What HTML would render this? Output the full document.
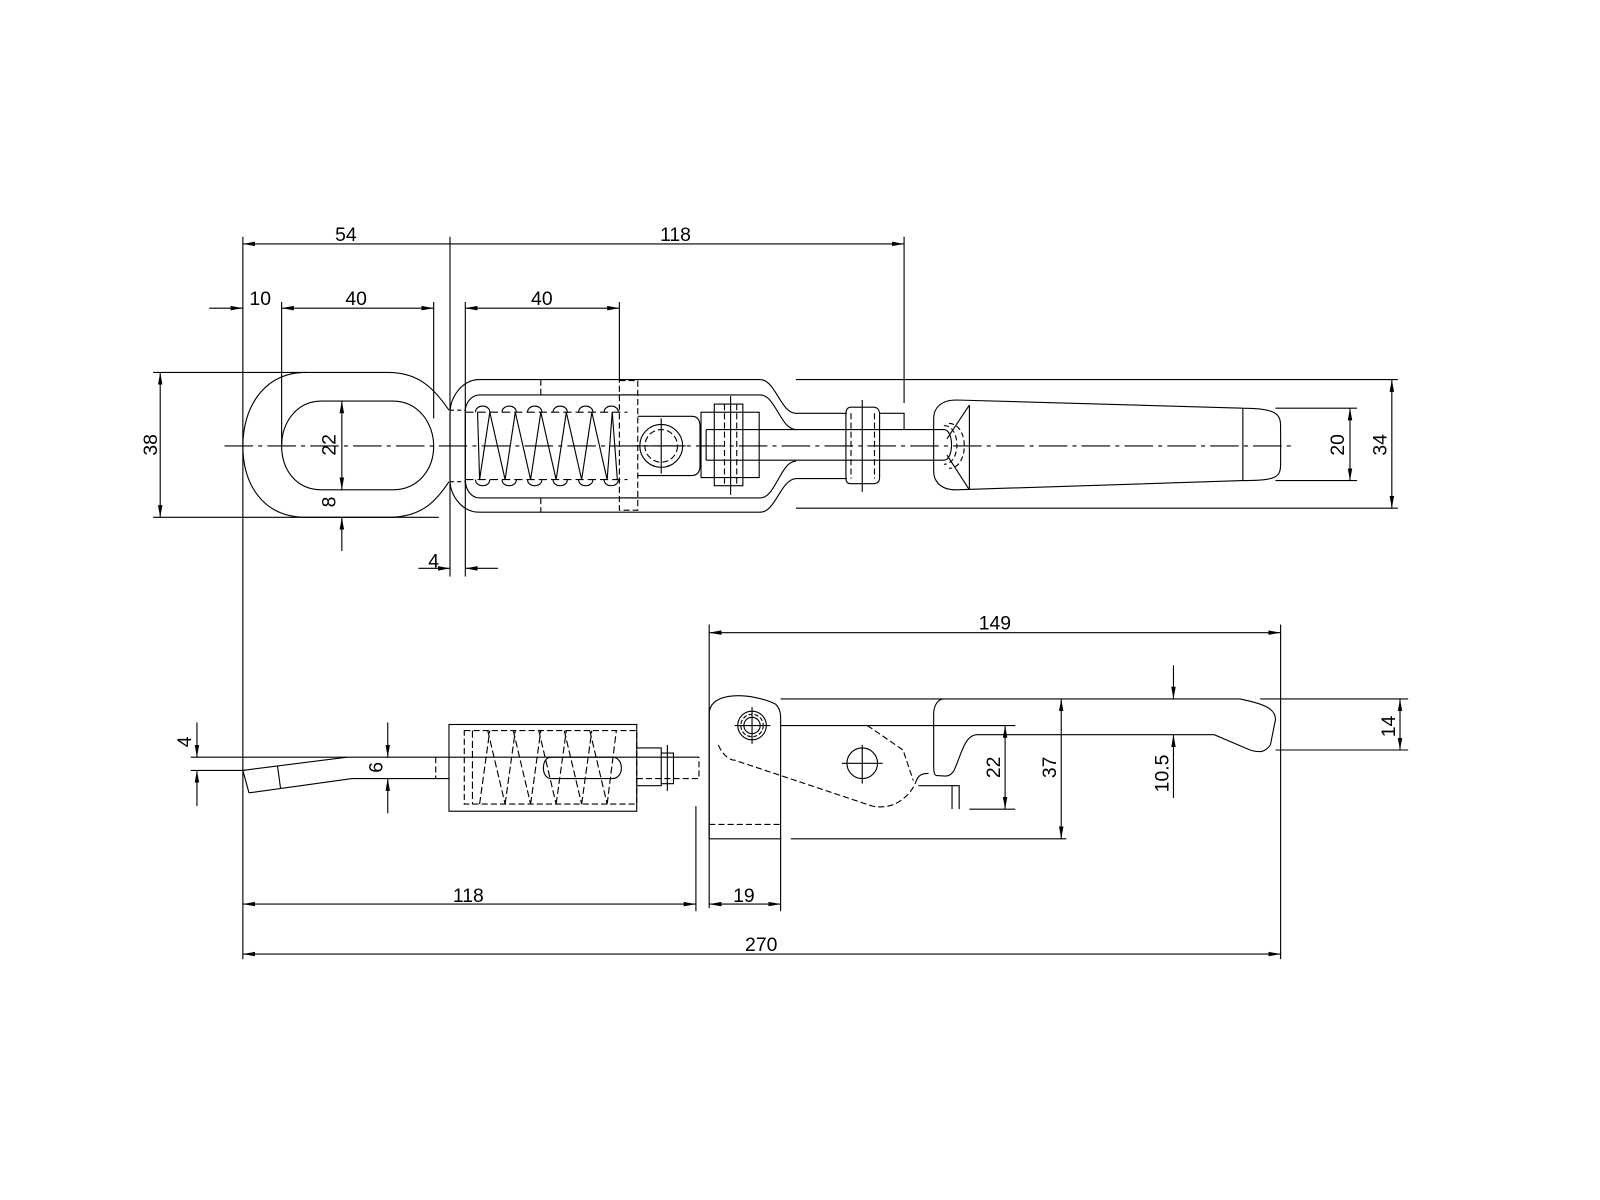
<!DOCTYPE html>
<html><head><meta charset="utf-8"><style>
html,body{margin:0;padding:0;background:#fff}
svg{display:block}
text{font-family:"Liberation Sans",sans-serif;font-size:19px;fill:#000}
</style></head><body>
<svg width="1600" height="1200" viewBox="0 0 1568 1176" xmlns="http://www.w3.org/2000/svg">
<defs>
<marker id="a" viewBox="0 0 12 6" refX="12" refY="3" markerWidth="12" markerHeight="6" orient="auto-start-reverse" markerUnits="userSpaceOnUse"><path d="M0,0.8 L12,3 L0,5.2z" fill="#000"/></marker>
</defs>
<rect width="1568" height="1176" fill="#fff"/>
<g fill="none" stroke="#000" stroke-width="1.1">
<!-- ===== TOP VIEW ===== -->
<!-- extension lines -->
<path d="M238,232V940 M441,232V565 M886,232V395 M276,296V437 M425,296V410 M456,296V565 M607,296V372 M150,365H300 M150,507H430 M780,372H1370 M780,498H1370 M1250,400H1330 M1250,471H1330"/>
<!-- dims -->
<path d="M238,239H441 M441,239H886" marker-start="url(#a)" marker-end="url(#a)"/>
<path d="M205,302H238" marker-end="url(#a)"/>
<path d="M276,302H425" marker-start="url(#a)" marker-end="url(#a)"/>
<path d="M456,302H607" marker-start="url(#a)" marker-end="url(#a)"/>
<path d="M157,365V507" marker-start="url(#a)" marker-end="url(#a)"/>
<path d="M335,393V480" marker-start="url(#a)" marker-end="url(#a)"/>
<path d="M335,540V507" marker-end="url(#a)"/>
<path d="M410,557H441" marker-end="url(#a)"/>
<path d="M488,557H456" marker-end="url(#a)"/>
<path d="M1323,400V471" marker-start="url(#a)" marker-end="url(#a)"/>
<path d="M1364,372V498" marker-start="url(#a)" marker-end="url(#a)"/>
<!-- centerline -->
<path d="M220,437H1265" stroke-dasharray="28,5,4,5"/>
<!-- eye -->
<path d="M300,365H380C410,365 425,380 440,402 M300,507H380C410,507 425,495 440,472 M300,365C258,365 238,400 238,437C238,475 258,507 300,507"/>
<path d="M315,393H385C410,393 425,415 425,437C425,460 410,480 385,480H315C290,480 276,460 276,437C276,415 290,393 315,393"/>
<!-- housing -->
<path d="M745,372H470C452,372 441,390 441,405V470C441,485 452,502 470,502H745C760,502 765,470 780,469H830"/>
<path d="M745,372C760,372 765,405 780,405H830"/>
<path d="M745,387H470C462,387 456,395 456,403V470C456,480 462,488 470,488H745C760,488 765,452 780,452 M745,387C760,387 765,421 780,421"/>
<path d="M441,402H456 M441,472H456" stroke-dasharray="4,3"/>
<path d="M530,372V387 M530,488V502" stroke-dasharray="6,3"/>
<!-- spring -->
<path d="M456,404H615 M456,470H615" stroke-dasharray="8,4"/>
<g>
<path d="M470,470L480,404 M495,470L505,404 M520,470L530,404 M545,470L555,404 M570,470L580,404 M595,470L600,404"/>
<path d="M470,470L468,404 M480,404L495,470 M505,404L520,470 M530,404L545,470 M555,404L570,470 M580,404L595,470 M600,404L605,470"/>
<path d="M466,404C466,396 480,396 480,404 M492,404C492,396 506,396 506,404 M517,404C517,396 531,396 531,404 M542,404C542,396 556,396 556,404 M567,404C567,396 581,396 581,404 M592,404C592,396 606,396 606,404 M466,470C466,478 480,478 480,470 M492,470C492,478 506,478 506,470 M517,470C517,478 531,478 531,470 M542,470C542,478 556,478 556,470 M567,470C567,478 581,478 581,470 M592,470C592,478 606,478 606,470"/>
</g>
<!-- plate -->
<rect x="607" y="373" width="18" height="127" stroke-dasharray="6,3"/>
<path d="M607,387H625 M607,488H625"/>
<!-- slot piece -->
<path d="M625,408H678C684,408 686,412 686,418V456C686,462 684,466 678,466H625"/>
<circle cx="648" cy="437" r="21"/>
<circle cx="648" cy="437" r="16" stroke-dasharray="6,3"/>
<path d="M648,410V464 M622,437H672"/>
<!-- clevis -->
<rect x="687" y="404" width="57" height="64"/>
<rect x="700" y="396" width="28" height="80"/>
<path d="M710,396V476 M722,396V476" stroke-dasharray="6,3"/>
<path d="M716,388V485"/>
<!-- rod -->
<path d="M692,421H925C935,421 935,451 925,451H692 M692,421V451"/>
<path d="M925,417C942,417 942,455 925,455 M930,415C950,415 950,459 930,459" stroke-dasharray="5,3"/>
<!-- second block -->
<path d="M834,399H856C860,399 862,402 862,406V468C862,472 860,474 856,474H834C830,474 829,472 829,468V406C829,402 830,399 834,399"/>
<path d="M834,405V469 M857,405V469" stroke-dasharray="6,3"/>
<path d="M845,392V482"/>
<path d="M862,405H886V421"/>
<!-- handle -->
<path d="M937,392L1218,400C1255,400 1255,408 1255,420V455C1255,468 1250,471 1218,471L937,480C920,480 915,470 915,462V410C915,400 922,392 937,392"/>
<path d="M950,397V480 M1218,400V471"/>
<path d="M950,397L928,430 M950,480L928,446"/>
<!-- ===== BOTTOM VIEW ===== -->
<path d="M695,612V890 M1255,612V940 M682,790V893 M765,820V893 M187,755H240 M187,742H340 M950,793H995 M850,711H995 M775,822H1045 M1235,685H1380 M1250,735H1380"/>
<path d="M695,620H1255" marker-start="url(#a)" marker-end="url(#a)"/>
<path d="M238,886H682" marker-start="url(#a)" marker-end="url(#a)"/>
<path d="M695,886H765" marker-start="url(#a)" marker-end="url(#a)"/>
<path d="M238,935H1255" marker-start="url(#a)" marker-end="url(#a)"/>
<path d="M193,708V742" marker-end="url(#a)"/>
<path d="M193,790V755" marker-end="url(#a)"/>
<path d="M380,708V742" marker-end="url(#a)"/>
<path d="M380,797V763" marker-end="url(#a)"/>
<path d="M985,711V793" marker-start="url(#a)" marker-end="url(#a)"/>
<path d="M1040,685V822" marker-start="url(#a)" marker-end="url(#a)"/>
<path d="M1150,652V685" marker-end="url(#a)"/>
<path d="M1150,782V720" marker-end="url(#a)"/>
<path d="M1372,685V735" marker-start="url(#a)" marker-end="url(#a)"/>
<!-- rod with bent tip -->
<path d="M238,755L340,742H685 M244,777L345,763H440 M238,755L244,777 M272,751L275,773"/>
<path d="M427,742V763 M624,763H685V742" stroke-dasharray="6,3"/>
<!-- spring housing -->
<rect x="440" y="710" width="184" height="85"/>
<path d="M455,716H624V788H455z" stroke-dasharray="6,3"/>
<path d="M463,716V788 M470,788L480,716 M495,788L505,716 M520,788L530,716 M545,788L555,716 M570,788L580,716 M595,788L604,716 M478,716L495,788 M503,716L520,788 M528,716L545,788 M553,716L570,788 M578,716L595,788" stroke-dasharray="7,3"/>
<path d="M540,742H600C612,742 612,763 600,763H540C530,763 530,742 540,742"/>
<path d="M624,733H648V770H624 M648,738H660V768H648 M654,730V775"/>
<!-- lug -->
<path d="M695,700C695,675 740,680 760,690C765,695 765,700 765,705V822H695z"/>
<path d="M695,808H765" stroke-dasharray="6,3"/>
<path d="M765,711H850"/>
<circle cx="737" cy="711" r="14"/>
<circle cx="737" cy="711" r="11" stroke-dasharray="4,2"/>
<circle cx="737" cy="711" r="8"/>
<path d="M720,711H755 M737,693V729"/>
<path d="M704,730C708,740 715,745 720,745L855,790C880,795 895,775 898,765 M850,711L885,735L895,765" stroke-dasharray="6,3"/>
<circle cx="845" cy="748" r="15"/>
<path d="M825,748H865 M845,730V768"/>
<!-- latch arm -->
<path d="M765,685H1215C1240,690 1250,695 1250,705L1245,730C1240,737 1235,738 1225,735L1190,720H958C945,720 942,740 935,755C930,763 925,760 918,760C915,760 915,755 915,748V700C915,690 920,685 925,685"/>
<path d="M898,765C900,760 903,758 910,758 M900,770H940V793 M933,770V793"/>
</g>
<!-- labels -->
<text x="339" y="236" text-anchor="middle">54</text>
<text x="662" y="236" text-anchor="middle">118</text>
<text x="255" y="299" text-anchor="middle">10</text>
<text x="349" y="299" text-anchor="middle">40</text>
<text x="531" y="299" text-anchor="middle">40</text>
<text x="425" y="556" text-anchor="middle">4</text>
<text transform="translate(154,436) rotate(-90)" text-anchor="middle">38</text>
<text transform="translate(329,436) rotate(-90)" text-anchor="middle">22</text>
<text transform="translate(329,492) rotate(-90)" text-anchor="middle">8</text>
<text transform="translate(1317,436) rotate(-90)" text-anchor="middle">20</text>
<text transform="translate(1359,436) rotate(-90)" text-anchor="middle">34</text>
<text x="975" y="617" text-anchor="middle">149</text>
<text x="459" y="884" text-anchor="middle">118</text>
<text x="729" y="884" text-anchor="middle">19</text>
<text x="746" y="932" text-anchor="middle">270</text>
<text transform="translate(187,727) rotate(-90)" text-anchor="middle">4</text>
<text transform="translate(375,752) rotate(-90)" text-anchor="middle">6</text>
<text transform="translate(980,752) rotate(-90)" text-anchor="middle">22</text>
<text transform="translate(1035,752) rotate(-90)" text-anchor="middle">37</text>
<text transform="translate(1145,758) rotate(-90)" text-anchor="middle">10.5</text>
<text transform="translate(1367,712) rotate(-90)" text-anchor="middle">14</text>
</svg>
</body></html>
